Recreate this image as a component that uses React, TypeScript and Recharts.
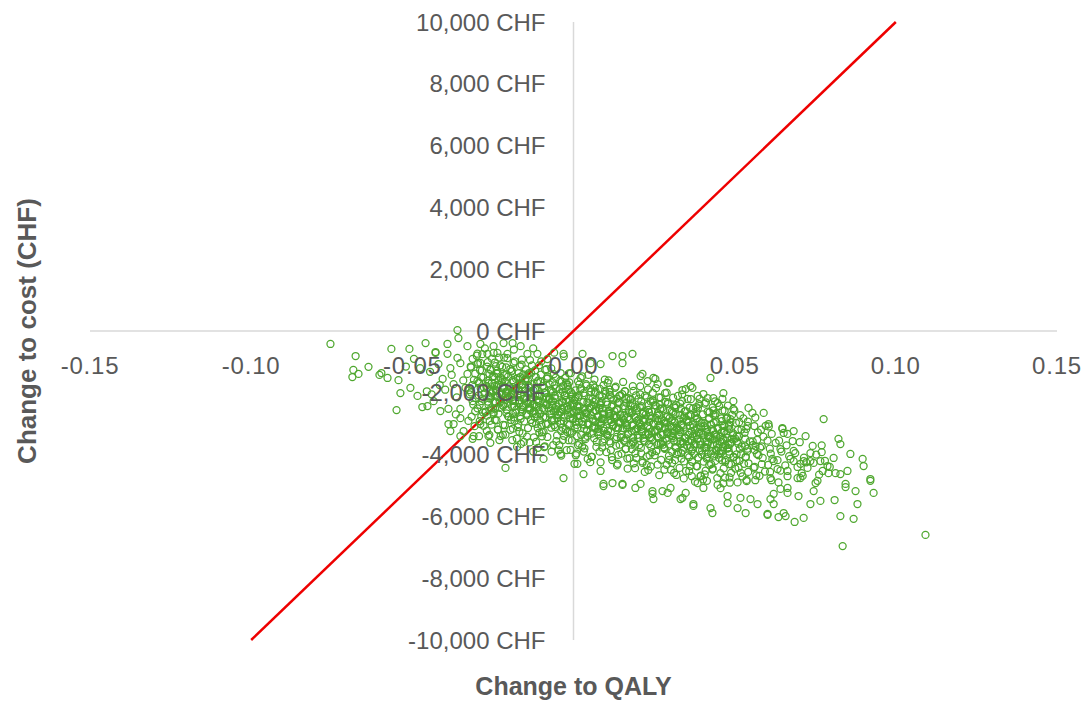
import React from "react";
import {
  ScatterChart,
  Scatter,
  XAxis,
  YAxis,
  ReferenceLine,
  ReferenceDot,
} from "recharts";

// axis ticks
const xTicks = [-0.15, -0.1, -0.05, 0, 0.05, 0.1, 0.15];
const yTicks = [10000, 8000, 6000, 4000, 2000, 0, -2000, -4000, -6000, -8000, -10000];

// willingness-to-pay threshold line (QALY, CHF)
const wtpLine = [
  [-0.1, -10000],
  [0.1, 10000],
];

// PSA iterations: [change to QALY, change to cost]
const leftTail = [
  [-0.0754, -420], [-0.0676, -810], [-0.0683, -1260], [-0.0686, -1490], [-0.0667, -1390],
  [-0.0636, -1160], [-0.0596, -1360], [-0.0602, -1420], [-0.0577, -1520], [-0.0565, -580],
  [-0.0543, -1590], [-0.0537, -2010], [-0.0549, -2560], [-0.0509, -580], [-0.0506, -1840],
  [-0.0484, -2100], [-0.0469, -2460], [-0.0453, -2430], [-0.0459, -390], [-0.0428, -680],
  [-0.0391, -420], [-0.036, 30], [-0.0413, -2590], [-0.0388, -3010], [-0.0382, -3240],
  [-0.0351, -2820], [-0.0351, -3400], [-0.0313, -3490], [-0.031, -3400], [-0.0258, -3620],
  [-0.0211, -4430], [-0.0226, -3400], [-0.0031, -4760], [-0.0428, -710], [-0.0391, -740],
  [-0.036, -870], [-0.0419, -1070], [-0.0382, -1200], [-0.0351, -1040], [-0.0329, -1390],
  [-0.0406, -1550], [-0.0372, -1720], [-0.0335, -1840], [-0.0298, -1620], [-0.0313, -2270],
  [-0.0351, -2520], [-0.0388, -2520], [-0.0434, -2270], [-0.0326, -2910], [-0.0289, -3010],
  [-0.0372, -3010], [-0.0264, -3400], [-0.0341, -3240], [-0.0248, -2690], [-0.0298, -1070],
  [-0.0267, -740], [-0.0236, -710], [-0.0205, -740], [-0.0164, -490], [-0.0143, -740],
  [-0.0112, -740], [-0.0081, -910], [-0.0329, -490], [-0.0357, -230], [-0.0248, -490],
  [-0.0289, -420], [-0.0217, -390], [-0.0445, -1320], [-0.0398, -1900], [-0.0362, -2150],
  [-0.0318, -1180], [-0.0342, -1600], [-0.0415, -1750], [-0.0378, -1420], [-0.0455, -1950],
  [-0.0322, -2050], [-0.0365, -2700], [-0.0305, -2600], [-0.0476, -1200], [-0.052, -1150],
  [-0.0495, -900], [-0.044, -2050], [-0.03, -800], [-0.0275, -560], [-0.0185, -600],
  [-0.0125, -560], [-0.006, -700], [-0.003, -820], [-0.016, -930], [-0.01, -980],
  [-0.0189, -390], [-0.0031, -740], [-0.004, -3980], [0.0003, -4300], [-0.0125, -3900],
  [-0.0175, -3750],
];

const coreLeft = [
  [-0.0283, -750], [-0.0313, -900], [-0.0296, -1030], [-0.0319, -1150], [-0.029, -1270],
  [-0.0305, -1380], [-0.0286, -1490], [-0.0309, -1580], [-0.0293, -1670], [-0.0314, -1750],
  [-0.0278, -1830], [-0.0323, -1910], [-0.0318, -1990], [-0.0294, -2080], [-0.0304, -2170],
  [-0.0285, -2270], [-0.0311, -2380], [-0.0298, -2500], [-0.0281, -2630], [-0.0316, -2770],
  [-0.0291, -2920], [-0.0307, -3080],
  [-0.0248, -710], [-0.0231, -860], [-0.0266, -1010], [-0.0241, -1140], [-0.0257, -1260],
  [-0.0238, -1380], [-0.0251, -1490], [-0.0233, -1600], [-0.0263, -1690], [-0.0246, -1780],
  [-0.0269, -1860], [-0.024, -1940], [-0.0255, -2020], [-0.0236, -2100], [-0.0259, -2190],
  [-0.0243, -2280], [-0.0264, -2380], [-0.0228, -2490], [-0.0273, -2610], [-0.0268, -2740],
  [-0.0244, -2880], [-0.0254, -3030], [-0.0235, -3190], [-0.0261, -3360],
  [-0.0205, -880], [-0.0186, -1030], [-0.0209, -1180], [-0.0193, -1310], [-0.0214, -1430],
  [-0.0178, -1550], [-0.0223, -1660], [-0.0218, -1770], [-0.0194, -1860], [-0.0204, -1950],
  [-0.0185, -2030], [-0.0211, -2110], [-0.0198, -2190], [-0.0181, -2270], [-0.0216, -2360],
  [-0.0191, -2450], [-0.0207, -2550], [-0.0188, -2660], [-0.0201, -2780], [-0.0183, -2910],
  [-0.0213, -3050], [-0.0196, -3200], [-0.0219, -3360], [-0.019, -3530],
  [-0.0135, -940], [-0.0161, -1090], [-0.0148, -1240], [-0.0131, -1370], [-0.0166, -1490],
  [-0.0141, -1610], [-0.0157, -1720], [-0.0138, -1830], [-0.0151, -1920], [-0.0133, -2010],
  [-0.0163, -2090], [-0.0146, -2170], [-0.0169, -2250], [-0.014, -2330], [-0.0155, -2420],
  [-0.0136, -2510], [-0.0159, -2610], [-0.0143, -2720], [-0.0164, -2840], [-0.0128, -2970],
  [-0.0173, -3110], [-0.0168, -3260], [-0.0144, -3420], [-0.0154, -3590],
  [-0.0107, -1110], [-0.0088, -1260], [-0.0101, -1410], [-0.0083, -1540], [-0.0113, -1660],
  [-0.0096, -1780], [-0.0119, -1890], [-0.009, -2000], [-0.0105, -2090], [-0.0086, -2180],
  [-0.0109, -2260], [-0.0093, -2340], [-0.0114, -2420], [-0.0078, -2500], [-0.0123, -2590],
  [-0.0118, -2680], [-0.0094, -2780], [-0.0104, -2890], [-0.0085, -3010], [-0.0111, -3140],
  [-0.0098, -3280], [-0.0081, -3430], [-0.0116, -3590], [-0.0091, -3760],
  [-0.0069, -1210], [-0.004, -1360], [-0.0055, -1510], [-0.0036, -1640], [-0.0059, -1760],
  [-0.0043, -1880], [-0.0064, -1990], [-0.0028, -2100], [-0.0073, -2190], [-0.0068, -2280],
  [-0.0044, -2360], [-0.0054, -2440], [-0.0035, -2520], [-0.0061, -2600], [-0.0048, -2690],
  [-0.0031, -2780], [-0.0066, -2880], [-0.0041, -2990], [-0.0057, -3110], [-0.0038, -3240],
  [-0.0051, -3380], [-0.0033, -3530], [-0.0063, -3690], [-0.0046, -3860],
];

const coreLeftFill = [
  [-0.0298, -735], [-0.0253, -895], [-0.0289, -1035], [-0.0268, -1155], [-0.0284, -1275],
  [-0.0261, -1395], [-0.028, -1500], [-0.0265, -1600], [-0.0294, -1690], [-0.0271, -1775],
  [-0.0288, -1855], [-0.0258, -1935], [-0.0276, -2015], [-0.0263, -2100], [-0.0282, -2190],
  [-0.0266, -2285], [-0.0291, -2390], [-0.0256, -2505], [-0.0273, -2630], [-0.0286, -2765],
  [-0.026, -2910], [-0.0279, -3065], [-0.0269, -3230], [-0.0293, -3405],
  [-0.0215, -860], [-0.0244, -1020], [-0.0221, -1160], [-0.0238, -1280], [-0.0208, -1400],
  [-0.0226, -1520], [-0.0213, -1625], [-0.0232, -1725], [-0.0216, -1815], [-0.0241, -1900],
  [-0.0206, -1980], [-0.0223, -2060], [-0.0236, -2140], [-0.021, -2225], [-0.0229, -2315],
  [-0.0219, -2410], [-0.0243, -2515], [-0.0248, -2630], [-0.0203, -2755], [-0.0239, -2890],
  [-0.0218, -3035], [-0.0234, -3190], [-0.0211, -3355], [-0.023, -3530],
  [-0.0182, -985], [-0.0166, -1145], [-0.0191, -1285], [-0.0156, -1405], [-0.0173, -1525],
  [-0.0186, -1645], [-0.016, -1750], [-0.0179, -1850], [-0.0169, -1940], [-0.0193, -2025],
  [-0.0198, -2105], [-0.0153, -2185], [-0.0189, -2265], [-0.0168, -2350], [-0.0184, -2440],
  [-0.0161, -2535], [-0.018, -2640], [-0.0165, -2755], [-0.0194, -2880], [-0.0171, -3015],
  [-0.0188, -3160], [-0.0158, -3315], [-0.0176, -3480], [-0.0163, -3655],
  [-0.0129, -1110], [-0.0119, -1270], [-0.0143, -1410], [-0.0148, -1530], [-0.0103, -1650],
  [-0.0139, -1770], [-0.0118, -1875], [-0.0134, -1975], [-0.0111, -2065], [-0.013, -2150],
  [-0.0115, -2230], [-0.0144, -2310], [-0.0121, -2390], [-0.0138, -2475], [-0.0108, -2565],
  [-0.0126, -2660], [-0.0113, -2765], [-0.0132, -2880], [-0.0116, -3005], [-0.0141, -3140],
  [-0.0106, -3285], [-0.0123, -3440], [-0.0136, -3605], [-0.011, -3780],
  [-0.0084, -1235], [-0.0061, -1395], [-0.008, -1535], [-0.0065, -1655], [-0.0094, -1775],
  [-0.0071, -1895], [-0.0088, -2000], [-0.0058, -2100], [-0.0076, -2190], [-0.0063, -2275],
  [-0.0082, -2355], [-0.0066, -2435], [-0.0091, -2515], [-0.0056, -2600], [-0.0073, -2690],
  [-0.0086, -2785], [-0.006, -2890], [-0.0079, -3005], [-0.0069, -3130], [-0.0093, -3265],
  [-0.0098, -3410], [-0.0053, -3565], [-0.0089, -3730], [-0.0068, -3905],
  [-0.0008, -1360], [-0.0026, -1520], [-0.0013, -1660], [-0.0032, -1780], [-0.0016, -1900],
  [-0.0041, -2020], [-0.0006, -2125], [-0.0023, -2225], [-0.0036, -2315], [-0.001, -2400],
  [-0.0029, -2480], [-0.0019, -2560], [-0.0043, -2640], [-0.0048, -2725], [-0.0003, -2815],
  [-0.0039, -2910], [-0.0018, -3015], [-0.0034, -3130], [-0.0011, -3255], [-0.003, -3390],
  [-0.0015, -3535], [-0.0044, -3690], [-0.0021, -3855], [-0.0038, -4030],
];

const coreMid = [
  [-0.0014, -1370], [0.0022, -1520], [-0.0023, -1670], [-0.0018, -1800], [0.0006, -1920],
  [-0.0004, -2040], [0.0015, -2150], [-0.0011, -2260], [0.0002, -2350], [0.0019, -2440],
  [-0.0016, -2520], [0.0009, -2600], [-0.0007, -2680], [0.0012, -2760], [-0.0001, -2850],
  [0.0017, -2940], [-0.0013, -3040], [0.0004, -3150], [-0.0019, -3270], [0.001, -3400],
  [-0.0005, -3540], [0.0014, -3690], [-0.0009, -3850], [0.0007, -4020],
  [0.0046, -1420], [0.0065, -1570], [0.0039, -1720], [0.0052, -1850], [0.0069, -1970],
  [0.0034, -2090], [0.0059, -2200], [0.0043, -2310], [0.0062, -2400], [0.0049, -2490],
  [0.0067, -2570], [0.0037, -2650], [0.0054, -2730], [0.0031, -2810], [0.006, -2900],
  [0.0045, -2990], [0.0064, -3090], [0.0041, -3200], [0.0057, -3320], [0.0036, -3450],
  [0.0072, -3590], [0.0027, -3740], [0.0032, -3900], [0.0056, -4070],
  [0.0109, -1600], [0.0093, -1750], [0.0112, -1900], [0.0099, -2030], [0.0117, -2150],
  [0.0087, -2270], [0.0104, -2380], [0.0081, -2490], [0.011, -2580], [0.0095, -2670],
  [0.0114, -2750], [0.0091, -2830], [0.0107, -2910], [0.0086, -2990], [0.0122, -3080],
  [0.0077, -3170], [0.0082, -3270], [0.0106, -3380], [0.0096, -3500], [0.0115, -3630],
  [0.0089, -3770], [0.0102, -3920], [0.0119, -4080], [0.0084, -4250],
  [0.0154, -1650], [0.0131, -1800], [0.016, -1950], [0.0145, -2080], [0.0164, -2200],
  [0.0141, -2320], [0.0157, -2430], [0.0136, -2540], [0.0172, -2630], [0.0127, -2720],
  [0.0132, -2800], [0.0156, -2880], [0.0146, -2960], [0.0165, -3040], [0.0139, -3130],
  [0.0152, -3220], [0.0169, -3320], [0.0134, -3430], [0.0159, -3550], [0.0143, -3680],
  [0.0162, -3820], [0.0149, -3970], [0.0167, -4130], [0.0137, -4300],
  [0.0207, -1790], [0.0186, -1940], [0.0222, -2090], [0.0177, -2220], [0.0182, -2340],
  [0.0206, -2460], [0.0196, -2570], [0.0215, -2680], [0.0189, -2770], [0.0202, -2860],
  [0.0219, -2940], [0.0184, -3020], [0.0209, -3100], [0.0193, -3180], [0.0212, -3270],
  [0.0199, -3360], [0.0217, -3460], [0.0187, -3570], [0.0204, -3690], [0.0181, -3820],
  [0.021, -3960], [0.0195, -4110], [0.0214, -4270], [0.0191, -4440],
  [0.0256, -1850], [0.0246, -2000], [0.0265, -2150], [0.0239, -2280], [0.0252, -2400],
  [0.0269, -2520], [0.0234, -2630], [0.0259, -2740], [0.0243, -2830], [0.0262, -2920],
  [0.0249, -3000], [0.0267, -3080], [0.0237, -3160], [0.0254, -3240], [0.0231, -3330],
  [0.026, -3420], [0.0245, -3520], [0.0264, -3630], [0.0241, -3750], [0.0257, -3880],
  [0.0236, -4020], [0.0272, -4170], [0.0227, -4330], [0.0232, -4500],
];

const coreMidFill = [
  [0.0027, -1470], [0.0014, -1630], [0.004, -1770], [0.0021, -1890], [0.0031, -2010],
  [0.0007, -2130], [0.0002, -2235], [0.0047, -2335], [0.0011, -2425], [0.0032, -2510],
  [0.0016, -2590], [0.0039, -2670], [0.002, -2750], [0.0035, -2835], [0.0006, -2925],
  [0.0029, -3020], [0.0012, -3125], [0.0042, -3240], [0.0024, -3365], [0.0037, -3500],
  [0.0018, -3645], [0.0034, -3800], [0.0009, -3965], [0.0044, -4140],
  [0.0097, -1575], [0.0061, -1735], [0.0082, -1875], [0.0066, -1995], [0.0089, -2115],
  [0.007, -2235], [0.0085, -2340], [0.0056, -2440], [0.0079, -2530], [0.0062, -2615],
  [0.0092, -2695], [0.0074, -2775], [0.0087, -2855], [0.0068, -2940], [0.0084, -3030],
  [0.0059, -3125], [0.0094, -3230], [0.0077, -3345], [0.0064, -3470], [0.009, -3605],
  [0.0071, -3750], [0.0081, -3905], [0.0057, -4070], [0.0052, -4245],
  [0.0106, -1680], [0.0129, -1840], [0.0112, -1980], [0.0142, -2100], [0.0124, -2220],
  [0.0137, -2340], [0.0118, -2445], [0.0134, -2545], [0.0109, -2635], [0.0144, -2720],
  [0.0127, -2800], [0.0114, -2880], [0.014, -2960], [0.0121, -3045], [0.0131, -3135],
  [0.0107, -3230], [0.0102, -3335], [0.0147, -3450], [0.0111, -3575], [0.0132, -3710],
  [0.0116, -3855], [0.0139, -4010], [0.012, -4175], [0.0135, -4350],
  [0.0184, -1785], [0.0159, -1945], [0.0194, -2085], [0.0177, -2205], [0.0164, -2325],
  [0.019, -2445], [0.0171, -2550], [0.0181, -2650], [0.0157, -2740], [0.0152, -2825],
  [0.0197, -2905], [0.0161, -2985], [0.0182, -3065], [0.0166, -3150], [0.0189, -3240],
  [0.017, -3335], [0.0185, -3440], [0.0156, -3555], [0.0179, -3680], [0.0162, -3815],
  [0.0192, -3960], [0.0174, -4115], [0.0187, -4280], [0.0168, -4455],
  [0.0231, -1890], [0.0207, -2050], [0.0202, -2190], [0.0247, -2310], [0.0211, -2430],
  [0.0232, -2550], [0.0216, -2655], [0.0239, -2755], [0.022, -2845], [0.0235, -2930],
  [0.0206, -3010], [0.0229, -3090], [0.0212, -3170], [0.0242, -3255], [0.0224, -3345],
  [0.0237, -3440], [0.0218, -3545], [0.0234, -3660], [0.0209, -3785], [0.0244, -3920],
  [0.0227, -4065], [0.0214, -4220], [0.024, -4385], [0.0221, -4560],
  [0.0289, -1995], [0.027, -2155], [0.0285, -2295], [0.0256, -2415], [0.0279, -2535],
  [0.0262, -2655], [0.0292, -2760], [0.0274, -2860], [0.0287, -2950], [0.0268, -3035],
  [0.0284, -3115], [0.0259, -3195], [0.0294, -3275], [0.0277, -3360], [0.0264, -3450],
  [0.029, -3545], [0.0271, -3650], [0.0281, -3765], [0.0257, -3890], [0.0252, -4025],
  [0.0297, -4170], [0.0261, -4325], [0.0282, -4490], [0.0266, -4665],
];

// densest part of the cloud
const coreCentre = [
  [-0.0227, -1110], [-0.0258, -1240], [-0.0235, -1360], [-0.0246, -1470], [-0.022, -1575],
  [-0.0253, -1675], [-0.0238, -1770], [-0.0217, -1860], [-0.025, -1945], [-0.023, -2030],
  [-0.026, -2120], [-0.0224, -2215], [-0.0241, -2315], [-0.0218, -2425], [-0.0255, -2545],
  [-0.0233, -2675],
  [-0.0196, -1230], [-0.017, -1360], [-0.0203, -1480], [-0.0188, -1590], [-0.0167, -1695],
  [-0.02, -1795], [-0.018, -1890], [-0.021, -1980], [-0.0174, -2065], [-0.0191, -2150],
  [-0.0168, -2240], [-0.0205, -2335], [-0.0183, -2435], [-0.0177, -2545], [-0.0208, -2665],
  [-0.0185, -2795],
  [-0.0138, -1360], [-0.0117, -1490], [-0.015, -1610], [-0.013, -1720], [-0.016, -1825],
  [-0.0124, -1925], [-0.0141, -2020], [-0.0118, -2110], [-0.0155, -2195], [-0.0133, -2280],
  [-0.0127, -2370], [-0.0158, -2465], [-0.0135, -2565], [-0.0146, -2675], [-0.012, -2795],
  [-0.0153, -2925],
  [-0.008, -1480], [-0.011, -1610], [-0.0074, -1730], [-0.0091, -1840], [-0.0068, -1945],
  [-0.0105, -2045], [-0.0083, -2140], [-0.0077, -2230], [-0.0108, -2315], [-0.0085, -2400],
  [-0.0096, -2490], [-0.007, -2585], [-0.0103, -2685], [-0.0088, -2795], [-0.0067, -2915],
  [-0.01, -3045],
  [-0.0041, -1610], [-0.0018, -1740], [-0.0055, -1860], [-0.0033, -1970], [-0.0027, -2075],
  [-0.0058, -2175], [-0.0035, -2270], [-0.0046, -2360], [-0.002, -2445], [-0.0053, -2530],
  [-0.0038, -2620], [-0.0017, -2715], [-0.005, -2815], [-0.003, -2925], [-0.006, -3045],
  [-0.0024, -3175],
  [0.0018, -1725], [0.0024, -1855], [-0.0008, -1975], [0.0016, -2085], [0.0005, -2190],
  [0.0031, -2290], [-0.0003, -2385], [0.0013, -2475], [0.0034, -2560], [0.0001, -2645],
  [0.0021, -2735], [-0.001, -2830], [0.0027, -2930], [0.001, -3040], [0.0033, -3160],
  [-0.0005, -3290],
  [0.0066, -1830], [0.0055, -1960], [0.0081, -2080], [0.0048, -2190], [0.0063, -2295],
  [0.0084, -2395], [0.0051, -2490], [0.0071, -2580], [0.0041, -2665], [0.0077, -2750],
  [0.006, -2840], [0.0083, -2935], [0.0046, -3035], [0.0068, -3145], [0.0074, -3265],
  [0.0043, -3395],
  [0.0098, -1935], [0.0113, -2065], [0.0134, -2185], [0.0101, -2295], [0.0121, -2400],
  [0.0091, -2500], [0.0127, -2595], [0.011, -2685], [0.0133, -2770], [0.0096, -2855],
  [0.0118, -2945], [0.0124, -3040], [0.0093, -3140], [0.0116, -3250], [0.0105, -3370],
  [0.0131, -3500],
  [0.0151, -2040], [0.0171, -2170], [0.0141, -2290], [0.0177, -2400], [0.016, -2505],
  [0.0183, -2605], [0.0146, -2700], [0.0168, -2790], [0.0174, -2875], [0.0143, -2960],
  [0.0166, -3050], [0.0155, -3145], [0.0181, -3245], [0.0148, -3355], [0.0163, -3475],
  [0.0184, -3605],
  [0.0227, -2145], [0.021, -2275], [0.0233, -2395], [0.0196, -2505], [0.0218, -2610],
  [0.0224, -2710], [0.0193, -2805], [0.0216, -2895], [0.0205, -2980], [0.0231, -3065],
  [0.0198, -3155], [0.0213, -3250], [0.0234, -3350], [0.0201, -3460], [0.0221, -3580],
  [0.0191, -3710],
  [0.0246, -2250], [0.0268, -2380], [0.0274, -2500], [0.0243, -2610], [0.0266, -2715],
  [0.0255, -2815], [0.0281, -2910], [0.0248, -3000], [0.0263, -3085], [0.0284, -3170],
  [0.0251, -3260], [0.0271, -3355], [0.0241, -3455], [0.0277, -3565], [0.026, -3685],
  [0.0283, -3815],
  [0.0293, -2355], [0.0316, -2485], [0.0305, -2605], [0.0331, -2715], [0.0298, -2820],
  [0.0313, -2920], [0.0334, -3015], [0.0301, -3105], [0.0321, -3190], [0.0291, -3275],
  [0.0327, -3365], [0.031, -3460], [0.0333, -3560], [0.0296, -3670], [0.0318, -3790],
  [0.0324, -3920],
  [0.0381, -2460], [0.0348, -2590], [0.0363, -2710], [0.0384, -2820], [0.0351, -2925],
  [0.0371, -3025], [0.0341, -3120], [0.0377, -3210], [0.036, -3295], [0.0383, -3380],
  [0.0346, -3470], [0.0368, -3565], [0.0374, -3665], [0.0343, -3775], [0.0366, -3895],
  [0.0355, -4025],
  [0.0434, -2565], [0.0401, -2695], [0.0421, -2815], [0.0391, -2925], [0.0427, -3030],
  [0.041, -3130], [0.0433, -3225], [0.0396, -3315], [0.0418, -3400], [0.0424, -3485],
  [0.0393, -3575], [0.0416, -3670], [0.0405, -3770], [0.0431, -3880], [0.0398, -4000],
  [0.0413, -4130],
  [0.0441, -2670], [0.0477, -2800], [0.046, -2920], [0.0483, -3030], [0.0446, -3135],
  [0.0468, -3235], [0.0474, -3330], [0.0443, -3420], [0.0466, -3505], [0.0455, -3590],
  [0.0481, -3680], [0.0448, -3775], [0.0463, -3875], [0.0484, -3985], [0.0451, -4105],
  [0.0471, -4235],
];

const coreRight = [
  [0.0284, -2010], [0.0309, -2160], [0.0293, -2310], [0.0312, -2440], [0.0299, -2560],
  [0.0317, -2680], [0.0287, -2790], [0.0304, -2900], [0.0281, -2990], [0.031, -3080],
  [0.0295, -3160], [0.0314, -3240], [0.0291, -3320], [0.0307, -3400], [0.0286, -3490],
  [0.0322, -3580], [0.0277, -3680], [0.0282, -3790], [0.0306, -3910], [0.0296, -4040],
  [0.0315, -4180], [0.0289, -4330], [0.0302, -4490], [0.0319, -4660],
  [0.0337, -2050], [0.0354, -2200], [0.0331, -2350], [0.036, -2480], [0.0345, -2600],
  [0.0364, -2720], [0.0341, -2830], [0.0357, -2940], [0.0336, -3030], [0.0372, -3120],
  [0.0327, -3200], [0.0332, -3280], [0.0356, -3360], [0.0346, -3440], [0.0365, -3530],
  [0.0339, -3620], [0.0352, -3720], [0.0369, -3830], [0.0334, -3950], [0.0359, -4080],
  [0.0343, -4220], [0.0362, -4370], [0.0349, -4530], [0.0367, -4700],
  [0.0391, -2200], [0.0407, -2350], [0.0386, -2500], [0.0422, -2630], [0.0377, -2750],
  [0.0382, -2870], [0.0406, -2980], [0.0396, -3090], [0.0415, -3180], [0.0389, -3270],
  [0.0402, -3350], [0.0419, -3430], [0.0384, -3510], [0.0409, -3590], [0.0393, -3680],
  [0.0412, -3770], [0.0399, -3870], [0.0417, -3980], [0.0387, -4100], [0.0404, -4230],
  [0.0381, -4370], [0.041, -4520], [0.0395, -4680], [0.0414, -4850],
  [0.0439, -2280], [0.0452, -2430], [0.0469, -2580], [0.0434, -2710], [0.0459, -2830],
  [0.0443, -2950], [0.0462, -3060], [0.0449, -3170], [0.0467, -3260], [0.0437, -3350],
  [0.0454, -3430], [0.0431, -3510], [0.046, -3590], [0.0445, -3670], [0.0464, -3760],
  [0.0441, -3850], [0.0457, -3950], [0.0436, -4060], [0.0472, -4180], [0.0427, -4310],
  [0.0432, -4450], [0.0456, -4600], [0.0446, -4760], [0.0465, -4930],
  [0.0499, -2570], [0.0517, -2720], [0.0487, -2850], [0.0504, -2970], [0.0481, -3090],
  [0.051, -3200], [0.0495, -3310], [0.0514, -3400], [0.0491, -3490], [0.0507, -3570],
  [0.0486, -3650], [0.0522, -3730], [0.0477, -3810], [0.0482, -3900], [0.0506, -3990],
  [0.0496, -4090], [0.0515, -4200], [0.0489, -4320], [0.0502, -4450], [0.0519, -4590],
  [0.0484, -4740], [0.0509, -4900],
  [0.0564, -2800], [0.0541, -2930], [0.0536, -3170], [0.0572, -3280], [0.0532, -3480],
  [0.0556, -3570], [0.0565, -3730], [0.0539, -3810], [0.0569, -3980], [0.0534, -4070],
  [0.0543, -4280], [0.0562, -4400], [0.0567, -4670], [0.0537, -4820],
  [0.0606, -3090], [0.0615, -3330], [0.0602, -3550], [0.0584, -3730], [0.0609, -3810],
  [0.0612, -3970], [0.0617, -4140], [0.0604, -4330], [0.061, -4560], [0.0614, -4830],
  [0.0652, -3300], [0.0638, -3550], [0.0661, -3700], [0.0645, -3900], [0.0669, -4050],
  [0.0633, -4180], [0.0657, -4350], [0.0642, -4520], [0.0664, -4700], [0.0636, -4900],
  [0.0702, -3600], [0.0688, -3950], [0.0715, -4100], [0.0695, -4400], [0.0708, -4600],
  [0.0722, -4250], [0.0753, -4000], [0.078, -4200], [0.0762, -4650], [0.0795, -4400],
  [0.077, -3700],
];

const coreRightFill = [
  [0.0324, -2100], [0.0337, -2260], [0.0318, -2400], [0.0334, -2520], [0.0309, -2640],
  [0.0344, -2760], [0.0327, -2865], [0.0314, -2965], [0.034, -3055], [0.0321, -3140],
  [0.0331, -3220], [0.0307, -3300], [0.0302, -3380], [0.0347, -3465], [0.0311, -3555],
  [0.0332, -3650], [0.0316, -3755], [0.0339, -3870], [0.032, -3995], [0.0335, -4130],
  [0.0306, -4275], [0.0329, -4430], [0.0312, -4595], [0.0342, -4770],
  [0.0364, -2205], [0.039, -2365], [0.0371, -2505], [0.0381, -2625], [0.0357, -2745],
  [0.0352, -2865], [0.0397, -2970], [0.0361, -3070], [0.0382, -3160], [0.0366, -3245],
  [0.0389, -3325], [0.037, -3405], [0.0385, -3485], [0.0356, -3570], [0.0379, -3660],
  [0.0362, -3755], [0.0392, -3860], [0.0374, -3975], [0.0387, -4100], [0.0368, -4235],
  [0.0384, -4380], [0.0359, -4535], [0.0394, -4700], [0.0377, -4875],
  [0.0411, -2310], [0.0432, -2470], [0.0416, -2610], [0.0439, -2730], [0.042, -2850],
  [0.0435, -2970], [0.0406, -3075], [0.0429, -3175], [0.0412, -3265], [0.0442, -3350],
  [0.0424, -3430], [0.0437, -3510], [0.0418, -3590], [0.0434, -3675], [0.0409, -3765],
  [0.0444, -3860], [0.0427, -3965], [0.0414, -4080], [0.044, -4205], [0.0421, -4340],
  [0.0431, -4485], [0.0407, -4640], [0.0402, -4805], [0.0447, -4980],
  [0.0479, -2415], [0.0462, -2575], [0.0492, -2715], [0.0474, -2835], [0.0487, -2955],
  [0.0468, -3075], [0.0484, -3180], [0.0459, -3280], [0.0494, -3370], [0.0477, -3455],
  [0.0464, -3535], [0.049, -3615], [0.0471, -3695], [0.0481, -3780], [0.0457, -3870],
  [0.0452, -3965], [0.0497, -4070], [0.0461, -4185], [0.0482, -4310], [0.0466, -4445],
  [0.0489, -4590], [0.047, -4745], [0.0485, -4910], [0.0456, -5085],
  [0.0527, -2830], [0.0514, -2950], [0.054, -3070], [0.0521, -3190], [0.0531, -3295],
  [0.0507, -3395], [0.0502, -3485], [0.0547, -3570], [0.0511, -3650], [0.0532, -3730],
  [0.0516, -3810], [0.0539, -3895], [0.052, -3985], [0.0535, -4080], [0.0506, -4185],
  [0.0529, -4300], [0.0512, -4425], [0.0542, -4560], [0.0524, -4705], [0.0537, -4860],
  [0.0561, -3075], [0.0582, -3195], [0.0589, -3420], [0.057, -3520], [0.0556, -3695],
  [0.0579, -3775], [0.0562, -3855], [0.0574, -4020], [0.0587, -4110], [0.0584, -4310],
  [0.0559, -4425], [0.0594, -4550], [0.0577, -4685], [0.0564, -4830],
];

const outerEdge = [
  [0.0183, -740], [0.0152, -810], [0.0121, -810], [0.0152, -1040], [0.0208, -1460],
  [0.0254, -1550], [0.0292, -1680], [0.0425, -1520], [0.0338, -1910], [0.0369, -1840],
  [0.0403, -2040], [0.0434, -2170], [0.0462, -2200], [0.0496, -2270], [0.0496, -2520],
  [0.0543, -2490], [0.059, -2650], [0.0776, -2850], [0.0596, -3070], [0.0648, -3170],
  [0.0683, -3240], [0.072, -3400], [0.0742, -3720], [0.0822, -3490], [0.0859, -3980],
  [0.0897, -4140], [0.09, -4370], [0.0807, -4110], [0.0766, -4210], [0.0726, -4430],
  [0.0683, -4210], [0.0664, -4530], [0.0704, -4760], [0.0751, -4920], [0.0791, -4600],
  [0.0828, -4630], [0.0844, -4950], [0.0921, -4790], [0.0931, -5240], [0.0881, -5600],
  [0.0766, -5500], [0.0735, -5600], [0.0664, -5240], [0.0621, -5270], [0.0549, -5440],
  [0.0518, -5400], [0.0478, -5340], [0.0425, -5730], [0.0372, -5600], [0.0338, -5400],
  [0.0292, -5240], [0.0245, -5270], [0.0192, -5080], [0.0152, -4950], [0.0093, -4950],
  [0.0084, -4530], [0.0031, -4630], [0.0012, -4300], [-0.0093, -4140],
  [0.0828, -3660], [0.077, -3920], [0.0735, -4210], [0.0788, -4370], [0.0921, -4850],
  [0.0875, -5180], [0.0844, -5050], [0.0828, -5990], [0.0869, -6080], [0.081, -5470],
  [0.0714, -6050], [0.0686, -6180], [0.0658, -5990], [0.0636, -6020], [0.0602, -5950],
  [0.1092, -6600], [0.0835, -6960], [0.0611, -5440], [0.0698, -5340], [0.0745, -5180],
  [0.0695, -4760], [0.0642, -5110], [0.0711, -4690], [0.0757, -4850], [0.0773, -4530],
  [0.0745, -4270], [0.0704, -4300], [0.0683, -3880], [0.0642, -3820], [0.0627, -3620],
  [0.068, -3560], [0.0648, -3140], [0.0605, -3010], [0.0664, -3330], [0.0735, -3950],
  [0.0714, -4210], [0.0673, -4140], [0.0621, -4210], [0.0611, -4760], [0.0633, -4470],
  [0.0664, -5080], [0.0813, -4600], [0.085, -4530],
  [0.0093, -5020], [0.0121, -4920], [0.0152, -4980], [0.0245, -5180], [0.0248, -5440],
  [0.0276, -5180], [0.0301, -5080], [0.0332, -5440], [0.0372, -5660], [0.0431, -5890],
  [0.0478, -5570], [0.0509, -5730], [0.0534, -5890], [0.0602, -5920], [0.0652, -5890],
  [0.0571, -5600], [0.0621, -5600], [0.0403, -5080], [0.0385, -4920], [0.0348, -5240],
  [0.0208, -4950], [0.0028, -740], [0.0084, -1070], [0.0053, -1040], [0.0465, -2010],
  [0.0555, -2650], [0.0348, -1880], [0.0363, -1780], [0.0295, -1680], [0.0261, -1720],
  [0.023, -1620], [0.0214, -1390], [0.0248, -1520], [0.0385, -2100], [0.0416, -2170],
  [0.0447, -2330],
];

const points = [
  ...leftTail,
  ...coreLeft,
  ...coreLeftFill,
  ...coreMid,
  ...coreMidFill,
  ...coreCentre,
  ...coreRight,
  ...coreRightFill,
  ...outerEdge,
].map(([q, cost]) => ({ q, cost }));

const TEXT = "#595959";
const AXIS = "#d9d9d9";
const GREEN = "#4ea72e";
const FONT = "'Liberation Sans', Arial, sans-serif";

const fmtQaly = (v: number) => v.toFixed(2);
const fmtCost = (v: number) => `${v.toLocaleString("en-US")} CHF`;

const Ring = (props: any) => (
  <circle cx={props.cx} cy={props.cy} r={3.5} fill="none" stroke={GREEN} strokeWidth={1.25} />
);

export default function App() {
  return (
    <div style={{ width: 1082, height: 704, background: "#fff", fontFamily: FONT }}>
      <style>{"body{margin:0}"}</style>
      <ScatterChart width={1082} height={704} margin={{ top: 22, right: 25, left: 0, bottom: 0 }}>
        <XAxis
          type="number"
          dataKey="q"
          domain={[-0.15, 0.15]}
          ticks={xTicks}
          tick={false}
          axisLine={false}
          tickLine={false}
          height={64}
          label={{
            value: "Change to QALY",
            position: "insideBottom",
            offset: 9,
            fill: TEXT,
            fontSize: 25,
            fontWeight: 700,
            fontFamily: FONT,
          }}
        />
        <YAxis
          type="number"
          dataKey="cost"
          domain={[-10000, 10000]}
          ticks={yTicks}
          tick={false}
          axisLine={false}
          tickLine={false}
          width={90}
          label={{
            content: (p: any) => {
              const vb = p.viewBox;
              const cx = vb.x + 27;
              const cy = vb.y + vb.height / 2;
              return (
                <text
                  x={cx}
                  y={cy}
                  transform={`rotate(-90 ${cx} ${cy})`}
                  textAnchor="middle"
                  dominantBaseline="central"
                  fill={TEXT}
                  fontSize={26}
                  fontWeight={700}
                  fontFamily={FONT}
                >
                  Change to cost (CHF)
                </text>
              );
            },
          }}
        />
        <ReferenceLine y={0} stroke={AXIS} strokeWidth={1.5} />
        <ReferenceLine x={0} stroke={AXIS} strokeWidth={1.5} />
        <Scatter data={points} shape={Ring} isAnimationActive={false} />
        <ReferenceLine
          segment={wtpLine.map(([q, cost]) => ({ x: q, y: cost }))}
          stroke="#ee0000"
          strokeWidth={2.5}
        />
        {xTicks.map((v) => (
          <ReferenceDot
            key={`x${v}`}
            x={v}
            y={0}
            r={0}
            stroke="none"
            label={{
              value: fmtQaly(v),
              position: "bottom",
              offset: 26,
              fill: TEXT,
              fontSize: 24,
              letterSpacing: 0.8,
              fontFamily: FONT,
            }}
          />
        ))}
        {yTicks.map((v) => (
          <ReferenceDot
            key={`y${v}`}
            x={0}
            y={v}
            r={0}
            stroke="none"
            label={{ value: fmtCost(v), position: "left", offset: 28, fill: TEXT, fontSize: 24, fontFamily: FONT }}
          />
        ))}
      </ScatterChart>
    </div>
  );
}
